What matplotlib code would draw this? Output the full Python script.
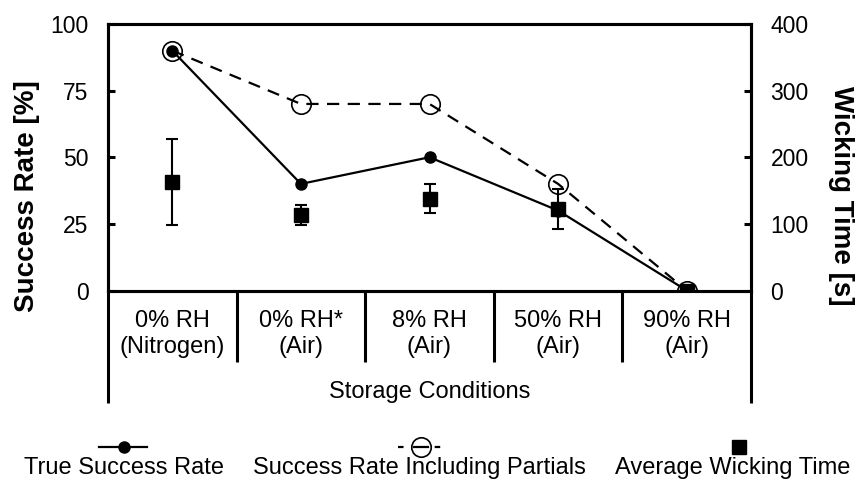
import matplotlib
matplotlib.use("Agg")
import matplotlib.pyplot as plt
from matplotlib.lines import Line2D
import numpy as np

plt.rcParams['font.family'] = ['Liberation Sans', 'DejaVu Sans']

categories = ["0% RH\n(Nitrogen)", "0% RH*\n(Air)", "8% RH\n(Air)", "50% RH\n(Air)", "90% RH\n(Air)"]
true_success = [90, 40, 50, 30, 0]
partial_success = [90, 70, 70, 40, 0]
wicking_time = [163, 114, 138, 122, 0]
wicking_err = [65, 15, 22, 30, 0]
left_ticks = [0, 25, 50, 75, 100]
right_ticks = [0, 100, 200, 300, 400]

W, H = 859, 480
fig = plt.figure(figsize=(W/100, H/100), dpi=100)
ax_l, ax_r, ax_t, ax_b = 108, 751, 24, 290.5
ax = fig.add_axes([ax_l/W, 1-ax_b/H, (ax_r-ax_l)/W, (ax_b-ax_t)/H])
ax2 = ax.twinx()

x = np.arange(len(categories))
fs = 17
tfs = 16.5
lw_sp = 2.2

ax.plot(x, partial_success, color='black', lw=1.6, ls=(0, (5.5, 3.8)), marker='o',
        markersize=14, markerfacecolor='none', markeredgecolor='black', markeredgewidth=1.2, zorder=3)
ax.plot(x, true_success, color='black', lw=1.6, marker='o', markersize=8,
        markerfacecolor='black', markeredgecolor='black', zorder=4)
ax.set_xlim(-0.5, len(categories)-0.5)
ax.set_ylim(0, 100)
ax.set_yticks(left_ticks)

ax2.errorbar(x, wicking_time, yerr=wicking_err, fmt='s', color='black', markersize=10,
             elinewidth=1.5, capsize=4, capthick=1.5, zorder=5)
ax2.set_ylim(0, 400)
ax2.set_yticks(right_ticks)
ax2.set_zorder(ax.get_zorder()+1)
ax2.patch.set_visible(False)

for a in (ax, ax2):
    for s in a.spines.values():
        s.set_linewidth(lw_sp)
ax.tick_params(axis='y', direction='in', length=5, width=lw_sp, labelsize=tfs, pad=14)
ax2.tick_params(axis='y', direction='in', length=5, width=lw_sp, labelsize=tfs, pad=14)

ax.set_xticks(x)
ax.set_xticklabels(categories, fontsize=fs, linespacing=1.25)
ax.tick_params(axis='x', which='major', length=0, pad=14)
ax.set_xticks(np.arange(0.5, len(categories)-1, 1), minor=True)
ax.tick_params(axis='x', which='minor', direction='out', length=51, width=lw_sp)
ax2.tick_params(axis='x', which='both', length=0)

# outer spine extensions below the axis
tr = ax.get_xaxis_transform()
ext = (403 - ax_b) / (ax_b - ax_t)
for xe in (-0.5, len(categories)-0.5):
    ax.add_line(Line2D([xe, xe], [0, -ext], transform=tr, color='black', lw=lw_sp,
                       clip_on=False, solid_capstyle='butt'))

ax.text(0.5, -(392 - ax_b)/(ax_b - ax_t), "Storage Conditions", transform=ax.transAxes,
        ha='center', va='center', fontsize=fs)

lab_y = (ax_b - 196) / (ax_b - ax_t)
ax.set_ylabel("Success Rate [%]", fontsize=20, fontweight='bold', va='center')
ax.yaxis.set_label_coords((27 - ax_l)/(ax_r - ax_l), lab_y)
ax2.set_ylabel("Wicking Time [s]", fontsize=20, fontweight='bold', rotation=-90, va='center')
ax2.yaxis.set_label_coords((841 - ax_l)/(ax_r - ax_l), lab_y)

# legend (marker above text)
my = 1 - 446.5/H
ty = 1 - 468/H
def fx(px):
    return px / W
fig.add_artist(Line2D([fx(99), fx(147)], [my, my], color='black', lw=1.6, transform=fig.transFigure))
fig.add_artist(Line2D([fx(124)], [my], marker='o', markersize=8, color='black', transform=fig.transFigure))
fig.text(fx(124), ty, "True Success Rate", ha='center', va='center', fontsize=fs)

fig.add_artist(Line2D([fx(398), fx(444)], [my, my], color='black', lw=1.6, ls=(0, (2.5, 14)),
                      transform=fig.transFigure))
fig.add_artist(Line2D([fx(421)], [my], marker='o', markersize=14, markerfacecolor='none',
                      markeredgecolor='black', markeredgewidth=1.2, transform=fig.transFigure))
fig.add_artist(Line2D([fx(414), fx(428)], [my, my], color='black', lw=1.6, transform=fig.transFigure))
fig.text(fx(419), ty, "Success Rate Including Partials", ha='center', va='center', fontsize=fs)

fig.add_artist(Line2D([fx(739)], [my], marker='s', markersize=10, color='black', transform=fig.transFigure))
fig.text(fx(733), ty, "Average Wicking Time", ha='center', va='center', fontsize=fs)

fig.savefig("out.png", dpi=100)
